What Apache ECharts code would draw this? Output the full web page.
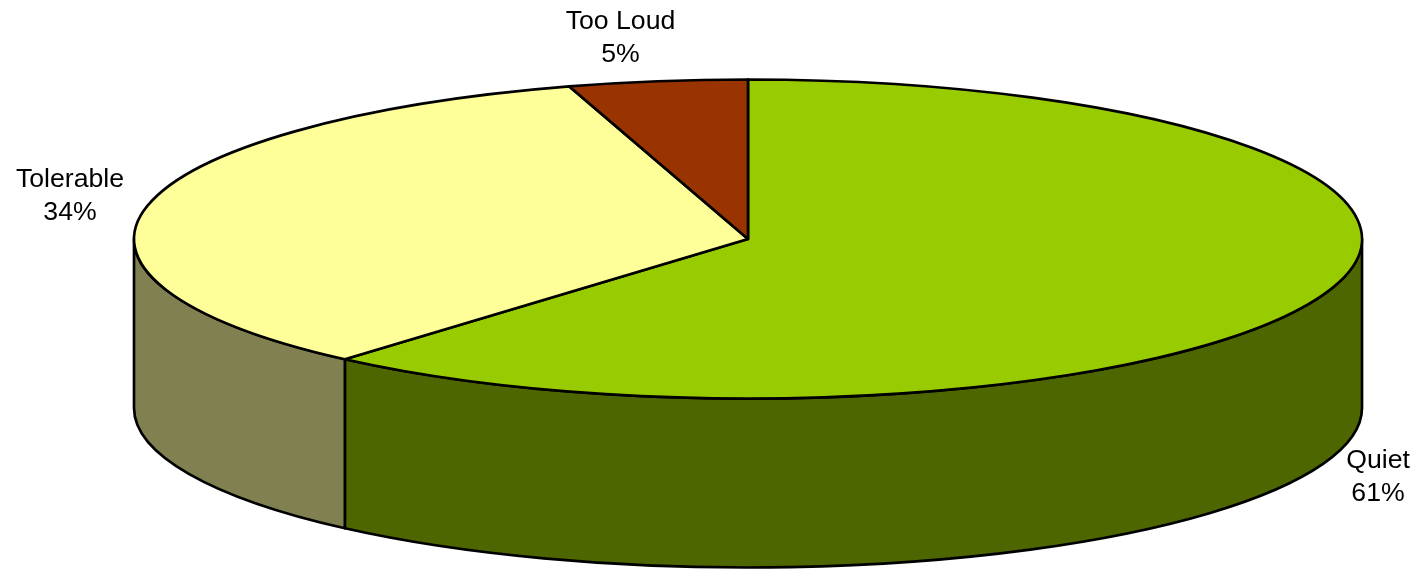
<!DOCTYPE html>
<html>
<head>
<meta charset="utf-8">
<style>html,body{margin:0;padding:0;background:#fff}#chart{width:1419px;height:569px}</style>
<script src="https://cdn.jsdelivr.net/npm/echarts@6/dist/echarts.min.js"></script>
</head>
<body>
<div id="chart"></div>
<script>
// Survey shares, clockwise from twelve o'clock
const categories = ['Quiet', 'Tolerable', 'Too Loud'];
const shares = [61.4, 33.9, 4.7];
const topColors = ['#99CC00', '#FFFF99', '#993300'];
const sideColors = ['#4D6600', '#808050', '#4D1A00'];

// Disc geometry in pixels
const CX = 748, CY = 239, RX = 614, RY = 159.5, DEPTH = 169;
const STROKE = { stroke: '#000', lineWidth: 2.67, lineJoin: 'round' };

// Label anchor: centre of each two-line caption
const labelPos = [[1378, 477], [70, 196], [620.5, 38]];

const total = shares.reduce((a, b) => a + b, 0);

function rimPoint(turn, dy) {
  const a = turn * 2 * Math.PI;
  return [CX + RX * Math.sin(a), CY + (dy || 0) - RY * Math.cos(a)];
}

function ellipseArc(to, dy) {
  const p = rimPoint(to, dy);
  return `A ${RX} ${RY} 0 0 1 ${p[0]} ${p[1]}`;
}

// Elliptical arc split into short steps so large sweeps stay unambiguous
function rimPath(from, to, dy) {
  let d = '', steps = Math.max(1, Math.ceil((to - from) / 0.2));
  for (let i = 1; i <= steps; i++) d += ellipseArc(from + (to - from) * i / steps, dy) + ' ';
  return d;
}

function renderSlice(params, api) {
  const i = params.dataIndex;
  let start = 0;
  for (let k = 0; k < i; k++) start += shares[k];
  const from = start / total, to = (start + api.value(0)) / total;
  const children = [];

  // Only the part of the wall between 3 and 9 o'clock faces the viewer
  const wallFrom = Math.max(from, 0.25), wallTo = Math.min(to, 0.75);
  if (wallTo > wallFrom) {
    const a = rimPoint(wallFrom), b = rimPoint(wallTo, DEPTH);
    children.push({
      type: 'path',
      z2: 1,
      shape: {
        pathData: `M ${a[0]} ${a[1]} ${rimPath(wallFrom, wallTo, 0)} L ${b[0]} ${b[1]} ${rimPath(wallTo, wallFrom, DEPTH).replace(/0 0 1/g, '0 0 0')} Z`
      },
      style: Object.assign({ fill: sideColors[i] }, STROKE)
    });
  }

  const p = rimPoint(from);
  children.push({
    type: 'path',
    z2: 2,
    shape: { pathData: `M ${CX} ${CY} L ${p[0]} ${p[1]} ${rimPath(from, to, 0)} Z` },
    style: Object.assign({ fill: topColors[i] }, STROKE)
  });

  children.push({
    type: 'text',
    z2: 3,
    style: {
      x: labelPos[i][0],
      y: labelPos[i][1],
      text: categories[i] + '\n' + Math.round(api.value(0)) + '%',
      font: '26.67px "Liberation Sans", Arial, sans-serif',
      lineHeight: 33,
      fill: '#000',
      align: 'center',
      verticalAlign: 'middle'
    }
  });
  return { type: 'group', children };
}

const chart = echarts.init(document.getElementById('chart'), null, { renderer: 'canvas' });
chart.setOption({
  animation: false,
  backgroundColor: '#fff',
  series: [{
    type: 'custom',
    coordinateSystem: 'none',
    renderItem: renderSlice,
    data: shares.map(v => [v])
  }]
});
</script>
</body>
</html>
